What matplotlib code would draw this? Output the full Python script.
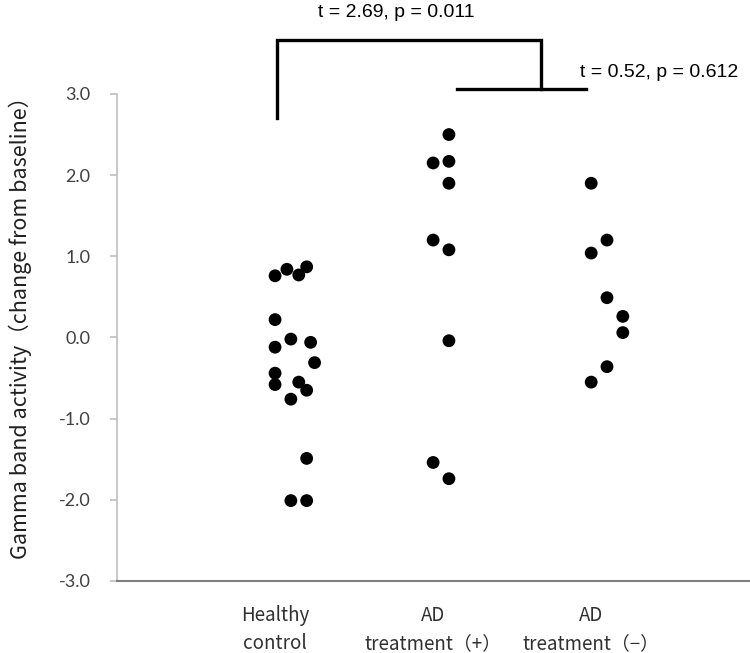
import matplotlib
matplotlib.use("Agg")
import matplotlib.pyplot as plt

# group labels (x positions 1, 2, 3)
groups = ["Healthy\ncontrol", "AD\ntreatment（+）", "AD\ntreatment（−）"]

# gamma band activity, change from baseline, with small horizontal jitter
hc_x = [1.0, 1.075, 1.15, 1.2, 1.0, 1.1, 1.225, 1.0, 1.25, 1.0, 1.0, 1.15, 1.2, 1.1, 1.2, 1.1, 1.2]
hc_y = [0.76, 0.84, 0.77, 0.87, 0.22, -0.02, -0.06, -0.12, -0.31, -0.44, -0.58, -0.55, -0.65, -0.76, -1.49, -2.01, -2.01]

adp_x = [2.1, 2.0, 2.1, 2.1, 2.0, 2.1, 2.1, 2.0, 2.1]
adp_y = [2.50, 2.15, 2.17, 1.90, 1.20, 1.08, -0.04, -1.54, -1.74]

adm_x = [3.0, 3.1, 3.0, 3.1, 3.2, 3.2, 3.1, 3.0]
adm_y = [1.90, 1.20, 1.04, 0.49, 0.26, 0.06, -0.36, -0.55]

yticks = [3.0, 2.0, 1.0, 0.0, -1.0, -2.0, -3.0]
stat1 = "t = 2.69, p = 0.011"
stat2 = "t = 0.52, p = 0.612"

fig = plt.figure(figsize=(7.5, 6.53), dpi=100)
ax = fig.add_axes([0.156, 0.1103, 0.843, 0.7458])

for xs, ys in [(hc_x, hc_y), (adp_x, adp_y), (adm_x, adm_y)]:
    ax.scatter(xs, ys, s=85, color="black", edgecolors="none", zorder=3)

ax.set_xlim(0, 4)
ax.set_ylim(-3, 3)

ax.spines["top"].set_visible(False)
ax.spines["right"].set_visible(False)
ax.spines["left"].set_color("#bfbfbf")
ax.spines["left"].set_linewidth(1.2)
ax.spines["bottom"].set_color("#7f7f7f")
ax.spines["bottom"].set_linewidth(1.5)

ax.set_yticks(yticks)
ax.set_yticklabels(["%.1f" % v for v in yticks], fontfamily="Lato", fontsize=13, color="#404040")
ax.tick_params(axis="y", length=5, width=1.2, color="#bfbfbf", pad=14)

ax.set_xticks([1, 2, 3])
ax.set_xticklabels(groups, fontfamily=["Noto Sans CJK JP", "DejaVu Sans"], fontsize=13.5,
                   color="#303030", linespacing=1.45)
ax.tick_params(axis="x", length=0, pad=17)

ax.set_ylabel("Gamma band activity（change from baseline）",
              fontfamily=["Noto Sans CJK JP", "DejaVu Sans"], fontsize=15.5, color="#202020")
ax.yaxis.set_label_coords(-0.135, 0.53)

# significance brackets
ax.plot([1.01, 1.01, 2.68, 2.68], [2.7, 3.66, 3.66, 3.06], color="black", lw=2.4,
        clip_on=False, solid_joinstyle="miter")
ax.plot([2.15, 2.97], [3.06, 3.06], color="black", lw=2.4, clip_on=False)
ax.text(1.77, 4.0, stat1, ha="center", va="center", fontfamily="Liberation Sans", fontsize=14)
ax.text(2.93, 3.27, stat2, ha="left", va="center", fontfamily="Liberation Sans", fontsize=14)

fig.savefig("out.png", dpi=100)
